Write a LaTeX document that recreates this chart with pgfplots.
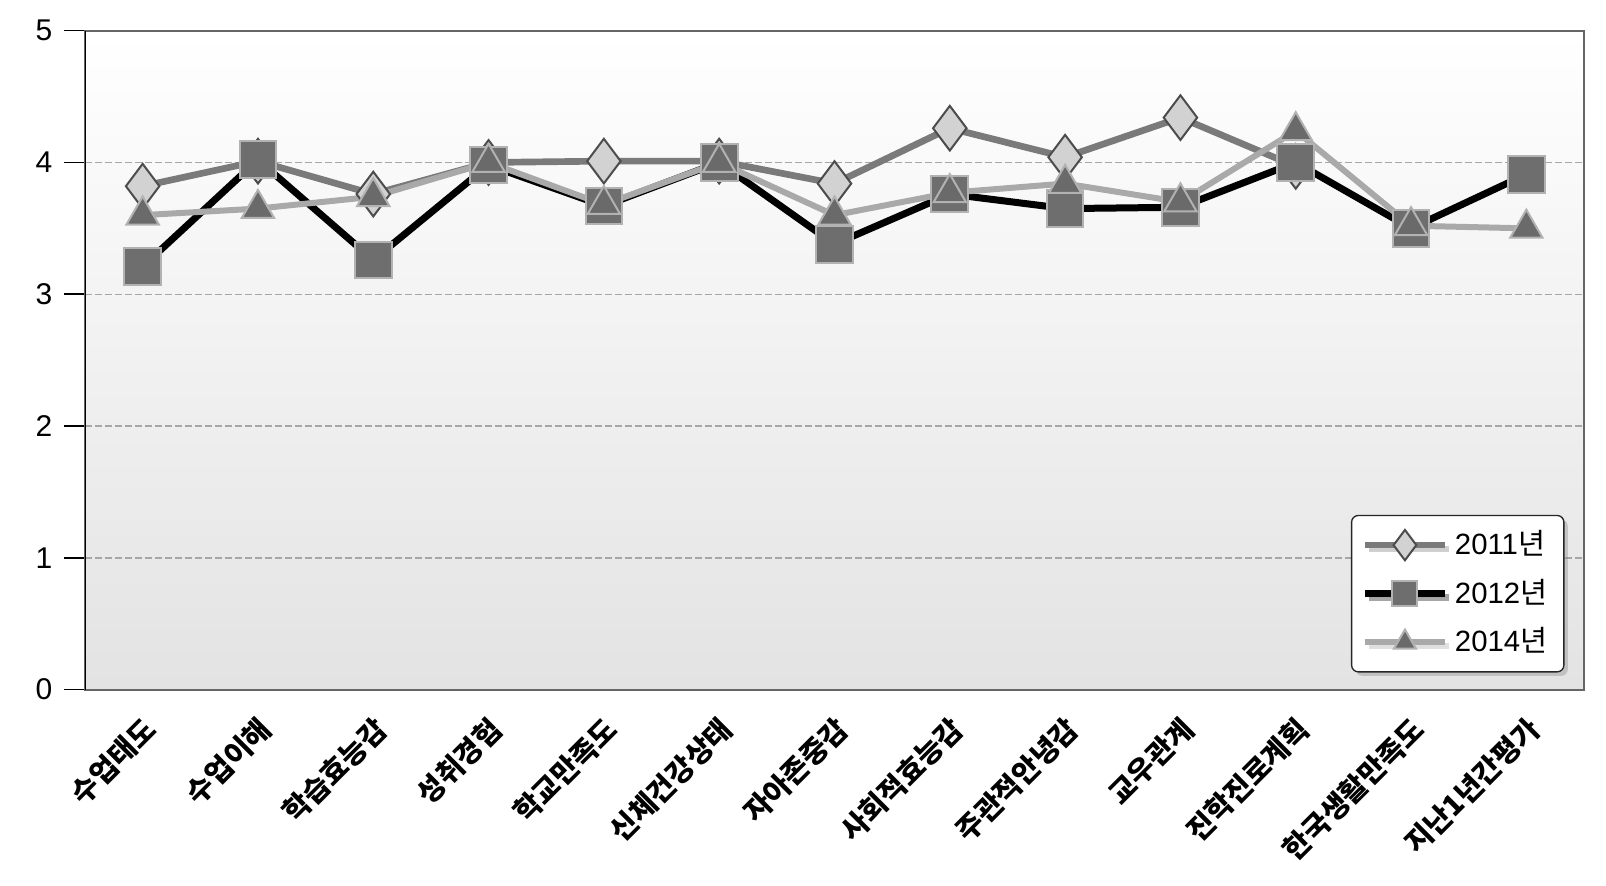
\documentclass[border=0pt]{standalone}
\usepackage{fontspec}
\setmainfont{Liberation Sans}
\newfontfamily\cjk{Noto Sans CJK KR}
\usepackage{pgfplots}
\pgfplotsset{compat=1.18}
\usetikzlibrary{shadows}

\definecolor{c2011}{HTML}{7A7A7A}
\definecolor{c2012}{HTML}{000000}
\definecolor{c2014}{HTML}{A9A9A9}
\definecolor{diafill}{HTML}{D2D2D2}
\definecolor{sqfill}{HTML}{6E6E6E}
\definecolor{trifill}{HTML}{6A6A6A}

\begin{document}
\begin{tikzpicture}
\begin{axis}[
    scale only axis,
    width=449.7pt, height=197.7pt,
    xmin=-0.5, xmax=12.5, ymin=0, ymax=5,
    xtick={0,...,12},
    xticklabels={수업태도,수업이해,학습효능감,성취경험,학교만족도,신체건강상태,자아존중감,사회적효능감,주관적안녕감,교우관계,진학진로계획,한국생활만족도,지난1년간평가},
    xticklabel style={font=\cjk\bfseries\fontsize{8.6}{9}\selectfont, rotate=45, anchor=east, inner sep=1pt, yshift=-4.5pt},
    xtick style={draw=none},
    minor xtick={-0.5,0.5,...,12.5},
    minor tick length=4pt,
    minor x tick style={black!70, line width=0.5pt},
    ytick={0,...,5},
    major tick length=6.3pt,
    ytick style={black, line width=0.5pt},
    yticklabel style={font=\fontsize{9}{10}\selectfont},
    xtick pos=bottom, ytick pos=left,
    /pgf/number format/assume math mode=true,
    tick align=outside,
    ymajorgrids,
    major grid style={black!35, line width=0.4pt, dash pattern=on 2pt off 1pt},
    axis line style={black!60, line width=0.6pt},
    axis background/.style={shade, top color=white, bottom color=black!11},
    legend style={at={(0.987,0.026)}, anchor=south east, font=\fontsize{8.8}{10}\selectfont,
        draw=black!85, rounded corners=2pt, fill=white, row sep=1.8pt,
        inner xsep=3pt, inner ysep=2.5pt,
        drop shadow={opacity=0.35, shadow xshift=1.2pt, shadow yshift=-1.2pt}},
    legend cell align=left,
    legend image code/.code={\draw[mark repeat=2,mark phase=2,#1,every mark/.append style={scale=0.68}] plot coordinates {(0cm,0cm) (0.42cm,0cm) (0.84cm,0cm)};},
]
\addplot[c2011, line width=2pt, mark=diamond*, mark size=6.7pt,
    mark options={solid, fill=diafill, draw=black!70, line width=0.6pt}] coordinates {
    (0,3.82) (1,4.01) (2,3.76) (3,4.00) (4,4.01) (5,4.01) (6,3.84)
    (7,4.26) (8,4.04) (9,4.34) (10,3.97)
};
\addplot[c2012, line width=2.1pt, mark=square*, mark size=5.5pt,
    mark options={solid, fill=sqfill, draw=black!30, line width=0.6pt}] coordinates {
    (0,3.21) (1,4.02) (2,3.26) (3,3.98) (4,3.67) (5,4.00) (6,3.38)
    (7,3.76) (8,3.65) (9,3.66) (10,4.00) (11,3.50) (12,3.91)
};
\addplot[c2014, line width=1.8pt, mark=triangle*, mark size=5.6pt,
    mark options={solid, fill=trifill, draw=black!30, line width=0.6pt}] coordinates {
    (0,3.60) (1,3.65) (2,3.74) (3,4.00) (4,3.68) (5,4.00) (6,3.60)
    (7,3.77) (8,3.84) (9,3.70) (10,4.24) (11,3.52) (12,3.50)
};
\legend{2011{\cjk 년},2012{\cjk 년},2014{\cjk 년}}
\draw[black, line width=0.6pt] (rel axis cs:0,0) -- (rel axis cs:0,1);
\coordinate (bl) at (rel axis cs:0,0);
\coordinate (tr) at (rel axis cs:1,1);
\end{axis}
\pgfresetboundingbox
\path[use as bounding box] ([xshift=-25.5pt,yshift=-58.8pt]bl) rectangle ([xshift=6.6pt,yshift=9.2pt]tr);
\end{tikzpicture}
\end{document}
